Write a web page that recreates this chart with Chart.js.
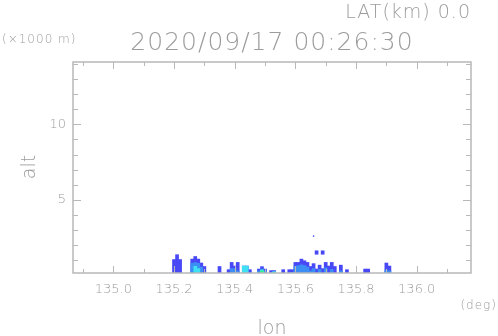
<!DOCTYPE html>
<html>
<head>
<meta charset="utf-8">
<script src="https://cdn.jsdelivr.net/npm/chart.js@4/dist/chart.umd.min.js"></script>
<style>
  body { margin: 0; background: #fff; }
  #wrap { width: 498px; height: 336px; }
</style>
</head>
<body>
<div id="wrap"><canvas id="myChart" width="498" height="336"></canvas></div>
<script>
// echo columns (lon, deg) and top altitude (km) of each reflectivity level
var lons      = [135.20,135.21,135.22, 135.26,135.27,135.28,135.29,135.30, 135.35, 135.38,135.39,135.40,135.41, 135.43,135.44,135.45, 135.48,135.49,135.50, 135.52,135.53, 135.56, 135.58,135.59,135.60,135.61,135.62,135.63,135.64,135.65,135.66,135.67,135.68,135.69,135.70,135.71,135.72,135.73,135.75,135.77, 135.83,135.84, 135.90,135.91];
var blueTop   = [1.05,1.37,1.05, 1.08,1.25,1.08,0.82,0.59, 0.59, 0.38,0.86,0.62,0.86, 0.62,0.62,0.38, 0.42,0.58,0.42, 0.32,0.32, 0.38, 0.38,0.38,0.86,0.86,1.08,0.97,0.86,0.59,0.78,0.42,0.68,0.45,0.86,0.62,0.86,0.59,0.68,0.38, 0.42,0.42, 0.82,0.62];
var lblueTop  = [0,0,0, 0.8,0.85,0.8,0.55,0, 0, 0,0.45,0.45,0.3, 0,0,0, 0.3,0.42,0.3, 0.2,0.22, 0, 0,0.2,0.6,0.65,0.7,0.65,0.55,0.3,0.45,0,0.4,0,0.5,0,0.4,0,0.3,0, 0,0, 0.35,0.3];
var cyanTop   = [0,0,0, 0,0.6,0.45,0,0, 0, 0,0,0,0, 0.62,0.62,0, 0,0.36,0, 0.15,0.25, 0, 0,0,0,0,0,0,0,0,0,0,0,0,0,0,0,0,0,0, 0,0, 0,0];
var greenTop  = [0,0,0, 0,0,0,0,0, 0, 0,0,0,0, 0,0,0, 0,0.3,0, 0,0.18, 0, 0,0,0,0,0,0,0,0,0,0,0,0,0,0,0,0,0,0, 0,0, 0,0];

// isolated echoes aloft
var dotLons = [135.67, 135.69];
var dotBottom = [1.4, 1.4];
var dotTop = [1.63, 1.63];
var speckLon = [135.66];
var speckAlt = [2.6];

var xTicks = [135.0, 135.2, 135.4, 135.6, 135.8, 136.0];
var yTicks = [5, 10];

var titleText = "2020/09/17 00:26:30";
var latText = "LAT(km) 0.0";

function column(tops) {
  var out = [];
  for (var i = 0; i < lons.length; i++) {
    if (tops[i] > 0) out.push({ x: lons[i], y: [0, tops[i]] });
  }
  return out;
}

// higher order is painted first, so the cores end up on top
function barSet(label, color, data, order) {
  return {
    label: label,
    data: data,
    backgroundColor: color,
    borderWidth: 0,
    grouped: false,
    barPercentage: 1,
    categoryPercentage: 1,
    order: order,
  };
}

var dots = dotLons.map(function (x, i) { return { x: x, y: [dotBottom[i], dotTop[i]] }; });
var speck = speckLon.map(function (x, i) { return { x: x, y: speckAlt[i] }; });

var FONT = "'DejaVu Sans', sans-serif";
var GRAY = "#9c9c9c";

var framePlugin = {
  id: "frame",
  afterDraw: function (chart) {
    var ctx = chart.ctx;
    var a = chart.chartArea;
    var xs = chart.scales.x, ys = chart.scales.y;
    ctx.save();
    ctx.strokeStyle = "#b8b8b8";
    ctx.lineWidth = 1.5;
    ctx.strokeRect(a.left, a.top, a.right - a.left, a.bottom - a.top);
    ctx.lineWidth = 1;
    xs.ticks.forEach(function (t) {
      var px = Math.round(xs.getPixelForValue(t.value)) + 0.5;
      var major = xTicks.some(function (v) { return Math.abs(v - t.value) < 1e-6; });
      var len = major ? 7 : 4;
      ctx.beginPath();
      ctx.moveTo(px, a.bottom); ctx.lineTo(px, a.bottom - len);
      ctx.moveTo(px, a.top); ctx.lineTo(px, a.top + len);
      ctx.stroke();
    });
    ys.ticks.forEach(function (t) {
      var py = Math.round(ys.getPixelForValue(t.value)) + 0.5;
      var major = yTicks.indexOf(Math.round(t.value)) >= 0;
      var len = major ? 8 : 5;
      ctx.beginPath();
      ctx.moveTo(a.left, py); ctx.lineTo(a.left + len, py);
      ctx.moveTo(a.right, py); ctx.lineTo(a.right - len, py);
      ctx.stroke();
    });

    ctx.fillStyle = GRAY;
    ctx.textBaseline = "alphabetic";
    ctx.textAlign = "center";
    ctx.font = "200 25px " + FONT;
    ctx.letterSpacing = "1px";
    ctx.fillText(titleText, 272, 50);
    ctx.textAlign = "right";
    ctx.font = "200 19px " + FONT;
    ctx.fillText(latText, 471, 18);
    ctx.textAlign = "left";
    ctx.font = "200 12px " + FONT;
    ctx.letterSpacing = "1px";
    ctx.fillText("(\u00d71000 m)", 2, 43);
    ctx.textAlign = "right";
    ctx.fillText("(deg)", 497, 309);
    ctx.letterSpacing = "0px";
    ctx.textAlign = "center";
    ctx.font = "200 19px " + FONT;
    ctx.fillText("lon", 272, 334);
    ctx.translate(35, 167);
    ctx.rotate(-Math.PI / 2);
    ctx.fillText("alt", 0, 0);
    ctx.restore();
  },
};

var ctx = document.getElementById("myChart").getContext("2d");
var myChart = new Chart(ctx, {
  type: "bar",
  data: {
    datasets: [
      barSet("blue", "#4848f6", column(blueTop), 5),
      barSet("lightblue", "#3d8ef4", column(lblueTop), 4),
      barSet("cyan", "#3ee0f2", column(cyanTop), 3),
      barSet("green", "#3cf08c", column(greenTop), 2),
      barSet("aloft", "#4848f6", dots, 1),
      {
        type: "scatter",
        label: "speck",
        data: speck,
        backgroundColor: "#4848f6",
        borderWidth: 0,
        pointStyle: "rect",
        pointRadius: 1,
        order: 0,
      },
    ],
  },
  options: {
    responsive: false,
    animation: false,
    layout: { padding: { left: 0, right: 27, top: 62, bottom: 0 } },
    plugins: { legend: { display: false }, tooltip: { enabled: false } },
    scales: {
      x: {
        type: "linear",
        offset: false,
        min: 134.867,
        max: 136.179,
        grid: { display: false, drawTicks: false },
        border: { display: false },
        afterFit: function (s) { s.height = 63; },
        ticks: {
          stepSize: 0.1,
          includeBounds: false,
          autoSkip: false,
          maxRotation: 0,
          padding: 9,
          color: GRAY,
          font: { family: FONT, size: 13, weight: 200 },
          callback: function (v) {
            var hit = xTicks.some(function (t) { return Math.abs(t - v) < 1e-6; });
            return hit ? v.toFixed(1) : "";
          },
        },
      },
      y: {
        type: "linear",
        min: 0.16,
        max: 14.12,
        grid: { display: false, drawTicks: false },
        border: { display: false },
        afterFit: function (s) { s.width = 73; },
        ticks: {
          stepSize: 1,
          includeBounds: false,
          autoSkip: false,
          padding: 7,
          color: GRAY,
          font: { family: FONT, size: 13, weight: 200 },
          callback: function (v) {
            return yTicks.indexOf(Math.round(v)) >= 0 && Math.abs(v - Math.round(v)) < 1e-6 ? String(Math.round(v)) : "";
          },
        },
      },
    },
  },
  plugins: [framePlugin],
});
</script>
</body>
</html>
